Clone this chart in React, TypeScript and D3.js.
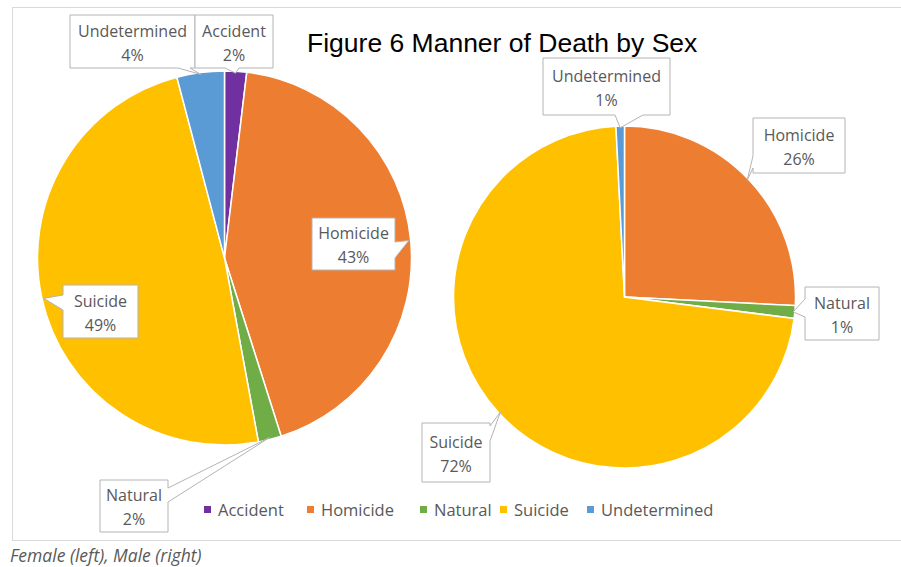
import React from "react";
import * as d3 from "d3";

const categories = ["Accident", "Homicide", "Natural", "Suicide", "Undetermined"];
const femaleValues = [1.9, 43.2, 2.0, 48.8, 4.1];
const maleValues = [0, 25.8, 1.2, 72.2, 0.8];
const femaleLabels = ["2%", "43%", "2%", "49%", "4%"];
const maleLabels = ["", "26%", "1%", "72%", "1%"];
const colors = ["#7030A0", "#ED7D31", "#70AD47", "#FFC000", "#5B9BD5"];

const W = 901;
const H = 567;

type Side = "top" | "right" | "bottom" | "left";
type Callout = { idx: number; x: number; y: number; w: number; h: number; side: Side; b1: number; b2: number };

const femaleCallouts: Callout[] = [
  { idx: 4, x: 70, y: 15, w: 125, h: 53, side: "bottom", b1: 108, b2: 120 },
  { idx: 0, x: 195, y: 15, w: 78, h: 53, side: "bottom", b1: 30, b2: 44 },
  { idx: 1, x: 312, y: 218, w: 83, h: 52, side: "right", b1: 24, b2: 40 },
  { idx: 3, x: 63, y: 285, w: 75, h: 53, side: "left", b1: 10, b2: 25 },
  { idx: 2, x: 100, y: 480, w: 68, h: 52, side: "right", b1: 8, b2: 22 },
];
const maleCallouts: Callout[] = [
  { idx: 4, x: 543, y: 58, w: 127, h: 57, side: "bottom", b1: 72, b2: 100 },
  { idx: 1, x: 753, y: 118, w: 92, h: 55, side: "left", b1: 38, b2: 50 },
  { idx: 2, x: 805, y: 287, w: 74, h: 53, side: "left", b1: 12, b2: 30 },
  { idx: 3, x: 422, y: 423, w: 68, h: 59, side: "right", b1: 3, b2: 18 },
];

function calloutPath(c: Callout, tip: [number, number]) {
  const { x, y, w, h, side, b1, b2 } = c;
  const pts: [number, number][] = [];
  pts.push([x, y]);
  if (side === "top") pts.push([x + b1, y], tip, [x + b2, y]);
  pts.push([x + w, y]);
  if (side === "right") pts.push([x + w, y + b1], tip, [x + w, y + b2]);
  pts.push([x + w, y + h]);
  if (side === "bottom") pts.push([x + b2, y + h], tip, [x + b1, y + h]);
  pts.push([x, y + h]);
  if (side === "left") pts.push([x, y + b2], tip, [x, y + b1]);
  return "M" + pts.map((p) => p.join(",")).join("L") + "Z";
}

function Pie({ cx, cy, r, values, labels, callouts }: { cx: number; cy: number; r: number; values: number[]; labels: string[]; callouts: Callout[] }) {
  const pie = d3.pie<number>().sort(null).value((d) => d);
  const arcs = pie(values);
  const arc = d3.arc<d3.PieArcDatum<number>>().innerRadius(0).outerRadius(r);
  return (
    <g>
      <g transform={`translate(${cx},${cy})`}>
        {arcs.map((a, i) =>
          a.value > 0 ? <path key={i} d={arc(a) || ""} fill={colors[i]} stroke="#fff" strokeWidth={1.5} /> : null
        )}
      </g>
      {callouts.map((c, k) => {
        const a = arcs[c.idx];
        const mid = (a.startAngle + a.endAngle) / 2;
        const rr = r * 0.99;
        const tip: [number, number] = [cx + Math.sin(mid) * rr, cy - Math.cos(mid) * rr];
        const tx = c.x + c.w / 2;
        return (
          <g key={k}>
            <path d={calloutPath(c, tip)} fill="#fff" stroke="#b4b4b4" strokeWidth={1} />
            <text x={tx} y={c.y + c.h / 2 - 5} textAnchor="middle" fontFamily="'Open Sans', sans-serif" fontSize={16} fill="#595959">
              {categories[c.idx]}
            </text>
            <text x={tx} y={c.y + c.h / 2 + 19} textAnchor="middle" fontFamily="'Open Sans', sans-serif" fontSize={16} fill="#595959">
              {labels[c.idx]}
            </text>
          </g>
        );
      })}
    </g>
  );
}

const legendX = [207, 310, 423, 503, 590];

export default function App() {
  return (
    <svg width={W} height={H} style={{ position: "absolute", left: 0, top: 0, background: "#fff" }}>
      <rect x={12.5} y={7.5} width={W} height={533} fill="#fff" stroke="#d9d9d9" strokeWidth={1} />
      <Pie cx={224.5} cy={258} r={187} values={femaleValues} labels={femaleLabels} callouts={femaleCallouts} />
      <Pie cx={624.5} cy={297} r={171} values={maleValues} labels={maleLabels} callouts={maleCallouts} />
      <text x={307} y={52} fontFamily="'Liberation Sans', Arial, sans-serif" fontSize={26.5} fill="#000">
        Figure 6 Manner of Death by Sex
      </text>
      {categories.map((c, i) => (
        <g key={c}>
          <rect x={legendX[i] - 3} y={506} width={7} height={7} fill={colors[i]} />
          <text x={legendX[i] + 11} y={515.5} fontFamily="'Open Sans', sans-serif" fontSize={16.5} fill="#595959">
            {c}
          </text>
        </g>
      ))}
      <text x={10} y={562} fontFamily="'Open Sans', sans-serif" fontStyle="italic" fontSize={17.5} fill="#595959">
        Female (left), Male (right)
      </text>
    </svg>
  );
}
